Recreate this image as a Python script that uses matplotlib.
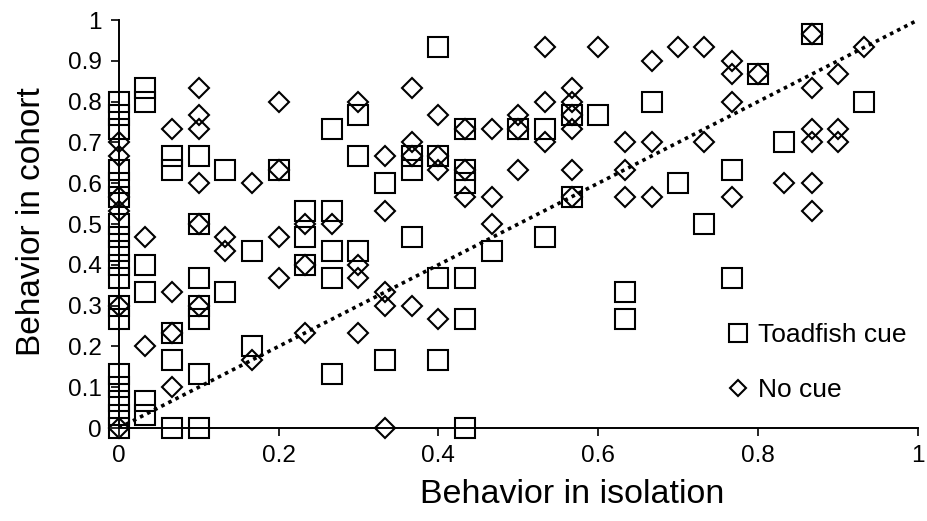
import numpy as np
import matplotlib
matplotlib.use("Agg")
import matplotlib.pyplot as plt

plt.rcParams["font.family"] = ["Liberation Sans", "DejaVu Sans"]

# Toadfish cue (squares): behavior in isolation vs. in cohort
cue_x = [0, 0, 0, 0, 0, 0, 0, 0, 0, 0, 0, 0, 0, 0, 0, 0, 0, 0,
         0.033, 0.033, 0.033, 0.033, 0.033, 0.033,
         0.067, 0.067, 0.067, 0.067, 0.067,
         0.1, 0.1, 0.1, 0.1, 0.1, 0.1, 0.1,
         0.133, 0.133, 0.167, 0.167, 0.2,
         0.233, 0.233, 0.233,
         0.267, 0.267, 0.267, 0.267, 0.267,
         0.3, 0.3, 0.3, 0.333, 0.333,
         0.367, 0.367, 0.367,
         0.4, 0.4, 0.4, 0.4,
         0.433, 0.433, 0.433, 0.433, 0.433, 0.433,
         0.467, 0.5, 0.533, 0.533, 0.567, 0.567, 0.6,
         0.633, 0.633, 0.667, 0.7, 0.733, 0.767, 0.767,
         0.8, 0.833, 0.867, 0.933]
cue_y = [0.8, 0.767, 0.733, 0.633, 0.6, 0.567, 0.5, 0.467, 0.433, 0.4, 0.367, 0.3, 0.267, 0.133, 0.1, 0.067, 0.033, 0,
         0.833, 0.8, 0.4, 0.333, 0.067, 0.033,
         0.667, 0.633, 0.233, 0.167, 0,
         0.667, 0.5, 0.367, 0.3, 0.267, 0.133, 0,
         0.633, 0.333, 0.433, 0.2, 0.633,
         0.533, 0.467, 0.4,
         0.733, 0.533, 0.433, 0.367, 0.133,
         0.767, 0.667, 0.433, 0.6, 0.167,
         0.667, 0.633, 0.467,
         0.933, 0.667, 0.367, 0.167,
         0.733, 0.633, 0.6, 0.367, 0.267, 0,
         0.433, 0.733, 0.733, 0.467, 0.767, 0.567, 0.767,
         0.333, 0.267, 0.8, 0.6, 0.5, 0.633, 0.367,
         0.867, 0.7, 0.967, 0.8]

# No cue (diamonds)
nocue_x = [0, 0, 0, 0, 0, 0,
           0.033, 0.033,
           0.067, 0.067, 0.067, 0.067,
           0.1, 0.1, 0.1, 0.1, 0.1, 0.1,
           0.133, 0.133, 0.167, 0.167,
           0.2, 0.2, 0.2, 0.2,
           0.233, 0.233, 0.233, 0.267,
           0.3, 0.3, 0.3, 0.3,
           0.333, 0.333, 0.333, 0.333, 0.333,
           0.367, 0.367, 0.367, 0.367,
           0.4, 0.4, 0.4, 0.4,
           0.433, 0.433, 0.433,
           0.467, 0.467, 0.467,
           0.5, 0.5, 0.5,
           0.533, 0.533, 0.533,
           0.567, 0.567, 0.567, 0.567, 0.567, 0.567,
           0.6, 0.633, 0.633, 0.633,
           0.667, 0.667, 0.667, 0.7, 0.733, 0.733,
           0.767, 0.767, 0.767, 0.767, 0.8,
           0.833,
           0.867, 0.867, 0.867, 0.867, 0.867, 0.867,
           0.9, 0.9, 0.9, 0.933]
nocue_y = [0.7, 0.667, 0.567, 0.533, 0.3, 0,
           0.467, 0.2,
           0.733, 0.333, 0.233, 0.1,
           0.833, 0.767, 0.733, 0.6, 0.5, 0.3,
           0.467, 0.433, 0.6, 0.167,
           0.8, 0.633, 0.467, 0.367,
           0.5, 0.4, 0.233, 0.5,
           0.8, 0.4, 0.367, 0.233,
           0.667, 0.533, 0.333, 0.3, 0,
           0.833, 0.7, 0.667, 0.3,
           0.767, 0.667, 0.633, 0.267,
           0.733, 0.633, 0.567,
           0.733, 0.567, 0.5,
           0.767, 0.733, 0.633,
           0.933, 0.8, 0.7,
           0.833, 0.8, 0.767, 0.733, 0.633, 0.567,
           0.933, 0.7, 0.633, 0.567,
           0.9, 0.7, 0.567, 0.933, 0.933, 0.7,
           0.9, 0.867, 0.8, 0.567, 0.867,
           0.6,
           0.967, 0.833, 0.733, 0.7, 0.6, 0.533,
           0.867, 0.733, 0.7, 0.933]

x_ticks = [0, 0.2, 0.4, 0.6, 0.8, 1]
y_ticks = [0, 0.1, 0.2, 0.3, 0.4, 0.5, 0.6, 0.7, 0.8, 0.9, 1]

fig = plt.figure(figsize=(9.28, 5.21), dpi=100)
ax = fig.add_axes([0.128, 0.1785, 0.861, 0.783])

ax.plot(cue_x, cue_y, linestyle="none", marker="s", markersize=14.4,
        markerfacecolor="none", markeredgecolor="black", markeredgewidth=1.5,
        clip_on=False, label="Toadfish cue", zorder=3)
ax.plot(nocue_x, nocue_y, linestyle="none", marker="D", markersize=9.8,
        markerfacecolor="none", markeredgecolor="black", markeredgewidth=1.5,
        clip_on=False, label="No cue", zorder=3)

# 1:1 line
ax.plot([0, 1], [0, 1], color="black", linestyle=(0, (1, 1.2)), linewidth=2.6, zorder=2)

ax.set_xlim(0, 1)
ax.set_ylim(0, 1)
ax.set_xticks(x_ticks)
ax.set_xticklabels(["0", "0.2", "0.4", "0.6", "0.8", "1"])
ax.set_yticks(y_ticks)
ax.set_yticklabels(["0", "0.1", "0.2", "0.3", "0.4", "0.5", "0.6", "0.7", "0.8", "0.9", "1"])
ax.tick_params(direction="out", length=6, width=1.2, labelsize=17.5, pad=6)
for side in ["top", "right"]:
    ax.spines[side].set_visible(False)
for side in ["left", "bottom"]:
    ax.spines[side].set_linewidth(1.4)

ax.set_xlabel("Behavior in isolation", fontsize=24.5)
ax.set_ylabel("Behavior in cohort", fontsize=24)
ax.xaxis.set_label_coords(0.568, -0.125)
ax.yaxis.set_label_coords(-0.090, 0.507)

ax.legend(loc="upper left", bbox_to_anchor=(0.781, 0.380),
          bbox_transform=fig.transFigure, frameon=False, fontsize=19,
          markerscale=0.87, handlelength=1.0, handletextpad=0.26,
          labelspacing=1.18, borderpad=0, borderaxespad=0)

fig.savefig("out.png", dpi=100)
